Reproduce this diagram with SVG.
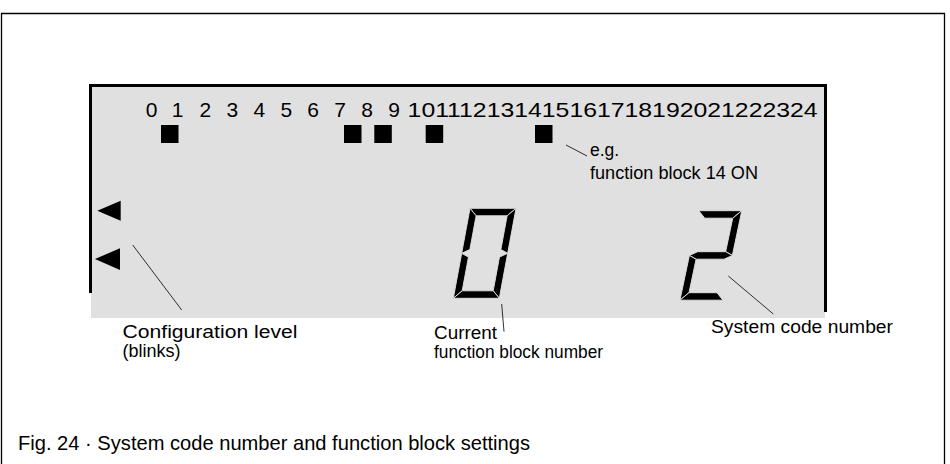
<svg xmlns="http://www.w3.org/2000/svg" width="950" height="464" viewBox="0 0 950 464">
<style>
.num{font-family:"Liberation Sans",Arial,sans-serif;font-size:21px;fill:#000;text-anchor:middle}
.num2{font-family:"Liberation Sans",Arial,sans-serif;font-size:21px;fill:#000}
.lbl{font-family:"Liberation Sans",Arial,sans-serif;font-size:17.5px;fill:#000}
.cap{font-family:"Liberation Sans",Arial,sans-serif;font-size:21px;fill:#000}
.seg{fill:#000;stroke:#e0e0e0;stroke-width:0.9;stroke-linejoin:miter}
.lead{stroke:#000;stroke-width:0.8;fill:none}
.sq{fill:#000}
</style>
<rect width="950" height="464" fill="#fff"/>
<path d="M1.5,470 V13.5 H944.5 V470" fill="none" stroke="#000" stroke-width="1.3"/>
<g id="lcd">
<rect x="91" y="86" width="734" height="232" fill="#e0e0e0"/>
<path d="M90.5,293 V85.5 H825.5 V312" fill="none" stroke="#000" stroke-width="3"/>
</g>
<g id="scale">
<text class="num" x="151.5" y="117">0</text>
<text class="num" x="177.5" y="117">1</text>
<text class="num" x="205.4" y="117">2</text>
<text class="num" x="232.4" y="117">3</text>
<text class="num" x="259.3" y="117">4</text>
<text class="num" x="286.3" y="117">5</text>
<text class="num" x="313.2" y="117">6</text>
<text class="num" x="340.2" y="117">7</text>
<text class="num" x="367.1" y="117">8</text>
<text class="num" x="394.1" y="117">9</text>
<text class="num2" x="407.6" y="117" textLength="410" lengthAdjust="spacingAndGlyphs">101112131415161718192021222324</text>
</g>
<g id="blocks">
<rect class="sq" x="161" y="125" width="17.5" height="18"/>
<rect class="sq" x="344" y="125" width="17.5" height="18"/>
<rect class="sq" x="374.3" y="125" width="17.5" height="18"/>
<rect class="sq" x="425.7" y="125" width="17.5" height="18"/>
<rect class="sq" x="535" y="125" width="17.5" height="18"/>
</g>
<g id="level-arrows">
<polygon class="sq" points="97.3,210.7 120.7,200.7 120.7,220.7"/>
<polygon class="sq" points="95,259 120,248.3 120,270"/>
</g>
<g id="digit-0" transform="translate(470,208.3) skewX(-10.5)">
<polygon class="seg" points="0,0 46,0 38.5,7.5 7.5,7.5"/>
<polygon class="seg" points="0,0 7.5,7.5 7.5,41.25 0,45"/>
<polygon class="seg" points="46,0 46,45 38.5,41.25 38.5,7.5"/>
<polygon class="seg" points="0,90 7.5,82.5 7.5,48.75 0,45"/>
<polygon class="seg" points="46,90 46,45 38.5,48.75 38.5,82.5"/>
<polygon class="seg" points="0,90 46,90 38.5,82.5 7.5,82.5"/>
</g>
<g id="digit-2" transform="translate(698.8,210.7) skewX(-11.9)">
<polygon class="seg" points="0,0 43,0 35.5,7.5 7.5,7.5"/>
<polygon class="seg" points="43,0 43,44.75 35.5,41 35.5,7.5"/>
<polygon class="seg" points="0,44.75 7.5,41 35.5,41 43,44.75 35.5,48.5 7.5,48.5"/>
<polygon class="seg" points="0,89.5 7.5,82 7.5,48.5 0,44.75"/>
<polygon class="seg" points="0,89.5 43,89.5 35.5,82 7.5,82"/>
</g>
<g id="connectors">
<line class="lead" x1="566" y1="145" x2="587" y2="156"/>
<line class="lead" x1="132.7" y1="245" x2="181.7" y2="310"/>
<line class="lead" x1="501.7" y1="304" x2="504" y2="331.7"/>
<line class="lead" x1="728.3" y1="276" x2="773.3" y2="314"/>
</g>
<g id="label-fb14">
<text class="lbl" x="590" y="156">e.g.</text>
<text class="lbl" x="590" y="179" textLength="168" lengthAdjust="spacingAndGlyphs">function block 14 ON</text>
</g>
<g id="label-config">
<text class="lbl" x="122.5" y="338" textLength="175" lengthAdjust="spacingAndGlyphs">Configuration level</text>
<text class="lbl" x="122.5" y="357" textLength="58" lengthAdjust="spacingAndGlyphs">(blinks)</text>
</g>
<g id="label-current">
<text class="lbl" x="434" y="339" textLength="63" lengthAdjust="spacingAndGlyphs">Current</text>
<text class="lbl" x="434" y="358" textLength="169" lengthAdjust="spacingAndGlyphs">function block number</text>
</g>
<g id="label-system">
<text class="lbl" x="711" y="333" textLength="182" lengthAdjust="spacingAndGlyphs">System code number</text>
</g>
<text class="cap" x="18" y="450" textLength="512" lengthAdjust="spacingAndGlyphs">Fig. 24 · System code number and function block settings</text>
</svg>
